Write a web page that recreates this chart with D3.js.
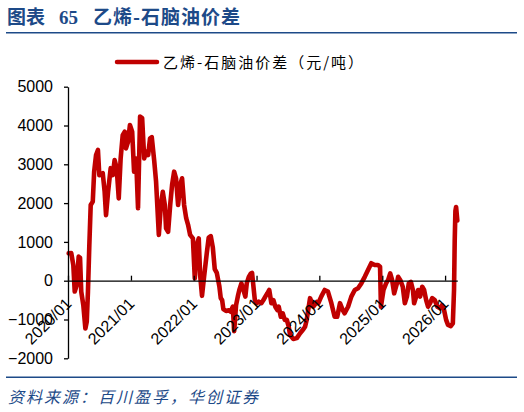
<!DOCTYPE html>
<html>
<head>
<meta charset="utf-8">
<script src="https://cdn.jsdelivr.net/npm/d3@7"></script>
<style>
  html, body { margin: 0; padding: 0; background: #fff; }
  svg { display: block; }
  .axis text { font-family: "Liberation Sans", Arial, sans-serif; font-size: 16px; fill: #000; }
  .axis path, .axis line { stroke: #000; stroke-width: 1.3px; }
</style>
</head>
<body>
<svg id="chart" width="524" height="412"></svg>
<script>
// 乙烯-石脑油价差 (元/吨)
const dates = [
  '2020-01-05', '2020-01-20', '2020-02-01', '2020-02-09', '2020-02-21', '2020-03-03', '2020-03-11', '2020-03-18',
  '2020-03-30', '2020-04-11', '2020-04-19', '2020-04-26', '2020-05-04', '2020-05-12', '2020-05-24', '2020-06-01',
  '2020-06-12', '2020-06-23', '2020-07-01', '2020-07-21', '2020-08-01', '2020-08-09', '2020-08-21', '2020-09-05',
  '2020-09-17', '2020-09-28', '2020-10-10', '2020-10-22', '2020-11-02', '2020-11-14', '2020-11-26', '2020-12-03',
  '2020-12-15', '2020-12-26', '2021-01-08', '2021-01-19', '2021-01-31', '2021-02-11', '2021-02-23', '2021-03-07',
  '2021-03-19', '2021-03-30', '2021-04-11', '2021-04-22', '2021-05-02', '2021-05-16', '2021-05-27', '2021-06-12',
  '2021-06-24', '2021-07-05', '2021-07-17', '2021-07-24', '2021-08-05', '2021-08-17', '2021-08-28', '2021-09-09',
  '2021-09-20', '2021-10-02', '2021-10-14', '2021-10-25', '2021-11-06', '2021-11-18', '2021-11-29', '2021-12-11',
  '2021-12-27', '2022-01-07', '2022-01-19', '2022-01-30', '2022-02-07', '2022-02-18', '2022-03-02', '2022-03-18',
  '2022-03-29', '2022-04-10', '2022-04-22', '2022-05-03', '2022-05-15', '2022-05-30', '2022-06-07', '2022-06-15',
  '2022-06-22', '2022-07-08', '2022-07-24', '2022-08-04', '2022-08-16', '2022-08-24', '2022-09-04', '2022-09-16',
  '2022-09-23', '2022-10-05', '2022-10-17', '2022-10-28', '2022-11-05', '2022-11-17', '2022-11-29', '2022-12-06',
  '2022-12-22', '2023-01-02', '2023-01-14', '2023-01-29', '2023-02-10', '2023-02-21', '2023-03-05', '2023-03-16',
  '2023-03-28', '2023-04-09', '2023-04-20', '2023-05-02', '2023-05-10', '2023-05-22', '2023-06-02', '2023-06-14',
  '2023-06-26', '2023-07-07', '2023-07-15', '2023-08-03', '2023-08-23', '2023-09-11', '2023-09-30', '2023-10-10',
  '2023-10-20', '2023-11-08', '2023-11-27', '2023-12-17', '2023-12-26', '2024-01-12', '2024-02-01', '2024-02-20',
  '2024-03-11', '2024-03-30', '2024-04-14', '2024-04-30', '2024-05-16', '2024-05-27', '2024-06-16', '2024-07-05',
  '2024-07-25', '2024-08-13', '2024-09-01', '2024-09-21', '2024-10-10', '2024-10-29', '2024-11-18', '2024-12-07',
  '2024-12-19', '2024-12-24', '2025-01-08', '2025-01-23', '2025-02-04', '2025-02-16', '2025-02-27', '2025-03-11',
  '2025-03-27', '2025-04-03', '2025-04-15', '2025-04-30', '2025-05-12', '2025-05-24', '2025-06-04', '2025-06-16',
  '2025-06-28', '2025-07-05', '2025-07-17', '2025-07-28', '2025-08-09', '2025-08-21', '2025-09-01', '2025-09-13',
  '2025-09-24', '2025-10-06', '2025-10-18', '2025-11-02', '2025-11-17', '2025-12-03', '2025-12-14', '2025-12-26',
  '2026-01-07', '2026-01-18', '2026-02-03', '2026-02-15', '2026-02-22', '2026-02-26', '2026-03-02', '2026-03-06',
  '2026-03-10', '2026-03-13'
];
const spread = [
  706, 710, 400, -280, -110, 620, 590, -280,
  -630, -1230, -1060, -280, 920, 1950, 2040, 2810,
  3240, 3370, 2720, 2770, 2290, 1690, 2290, 2900,
  2720, 3110, 2900, 2120, 3150, 3750, 3840, 3410,
  3580, 4010, 3840, 2810, 3150, 1870, 4230, 4190,
  3150, 3330, 3240, 3670, 3700, 3100, 2550, 1180,
  1950, 2290, 1950, 1350, 1260, 1950, 2470, 2810,
  2640, 1950, 2470, 2640, 1950, 1610, 1440, 1180,
  1090, 60, 920, 1090, 150, -390, 100, 720,
  1110, 1150, 850, 300, 200, -150, -450, -500,
  -730, -780, -760, -800, -670, -1300, -630, -370,
  -240, -70, -240, -410, -70, 100, 190, 200,
  -500, -580, -540, -580, -500, -410, -325, -240,
  -580, -500, -670, -755, -670, -930, -840, -1010,
  -1010, -1185, -1400, -1500, -1480, -1355, -1250, -1185,
  -1000, -450, -670, -550, -580, -410, -240, -280,
  -580, -930, -930, -580, -755, -840, -670, -410,
  -240, -195, -70, 100, 275, 450, 405, 405,
  360, -670, -240, -70, 20, 190, 20, -325,
  -70, 100, 20, -155, -580, -410, -70, -30,
  -240, -580, -410, -240, -410, -155, -240, -500,
  -670, -580, -450, -500, -670, -710, -630, -755,
  -1010, -1140, -1170, -1100, -240, 1050, 1800, 1900,
  1700, 1550
];

const yTicks = [-2000, -1000, 0, 1000, 2000, 3000, 4000, 5000];
const xTickDates = ['2020-01-01', '2021-01-01', '2022-01-01', '2023-01-01', '2024-01-01', '2025-01-01', '2026-01-01'];
const xTickLabels = ['2020/01', '2021/01', '2022/01', '2023/01', '2024/01', '2025/01', '2026/01'];

const seriesName = '乙烯-石脑油价差（元/吨）';
const titleNo = '65';
const titleText = '乙烯-石脑油价差';
const sourceText = '资料来源：百川盈孚，华创证券';

const blue = '#1d4a88';
const red = '#c00000';
const cjk = '"Noto Sans CJK SC", "Noto Sans", sans-serif';

const parse = d3.timeParse('%Y-%m-%d');
const points = dates.map((d, i) => ({ date: parse(d), value: spread[i] }));

const svg = d3.select('#chart');

// header
const title = svg.append('text')
  .attr('y', 24)
  .attr('fill', blue)
  .attr('font-weight', 700)
  .attr('font-size', 19);
title.append('tspan').attr('x', 7).attr('font-family', cjk).text('图表');
title.append('tspan').attr('x', 59).attr('font-family', '"Liberation Serif", "Times New Roman", serif').text(titleNo);
title.append('tspan').attr('x', 93).attr('font-family', cjk).attr('letter-spacing', 1).text(titleText);

svg.append('line')
  .attr('x1', 6).attr('x2', 517)
  .attr('y1', 32.7).attr('y2', 32.7)
  .attr('stroke', blue).attr('stroke-width', 1.6);

// legend
svg.append('line')
  .attr('x1', 117).attr('x2', 157)
  .attr('y1', 62).attr('y2', 62)
  .attr('stroke', red).attr('stroke-width', 4.5)
  .attr('stroke-linecap', 'round');
svg.append('text')
  .attr('x', 163).attr('y', 67.5)
  .attr('font-family', cjk)
  .attr('font-size', 15)
  .attr('letter-spacing', 2)
  .attr('fill', '#000')
  .text(seriesName);

// scales
const x = d3.scaleTime()
  .domain([parse('2020-01-01'), parse('2026-03-13')])
  .range([68, 457.3]);
const y = d3.scaleLinear()
  .domain([-2000, 5000])
  .range([358.3, 86.7]);

// series
const line = d3.line()
  .x(d => x(d.date))
  .y(d => y(d.value));

svg.append('path')
  .datum(points)
  .attr('fill', 'none')
  .attr('stroke', red)
  .attr('stroke-width', 4.6)
  .attr('stroke-linejoin', 'round')
  .attr('stroke-linecap', 'round')
  .attr('d', line);

// y axis
svg.append('g')
  .attr('class', 'axis')
  .attr('transform', 'translate(68,0)')
  .call(d3.axisLeft(y).tickValues(yTicks).tickSize(4).tickSizeOuter(0).tickPadding(11).tickFormat(d3.format('d')));

// x axis sits on zero, ticks point up, labels slanted
const xAxis = svg.append('g')
  .attr('class', 'axis')
  .attr('transform', `translate(0,${y(0)})`)
  .call(d3.axisBottom(x)
    .tickValues(xTickDates.map(parse))
    .tickSizeInner(-5)
    .tickSizeOuter(0)
    .tickFormat((d, i) => xTickLabels[i]));

xAxis.selectAll('.tick text')
  .attr('y', null)
  .attr('dy', null)
  .attr('text-anchor', 'end')
  .attr('transform', 'translate(4,24) rotate(-45)');

// footer
svg.append('line')
  .attr('x1', 6).attr('x2', 517)
  .attr('y1', 377.3).attr('y2', 377.3)
  .attr('stroke', blue).attr('stroke-width', 1.6);

svg.append('text')
  .attr('x', 8).attr('y', 403)
  .attr('font-family', cjk)
  .attr('font-size', 16)
  .attr('font-style', 'italic')
  .attr('letter-spacing', 2)
  .attr('fill', blue)
  .text(sourceText);
</script>
</body>
</html>
